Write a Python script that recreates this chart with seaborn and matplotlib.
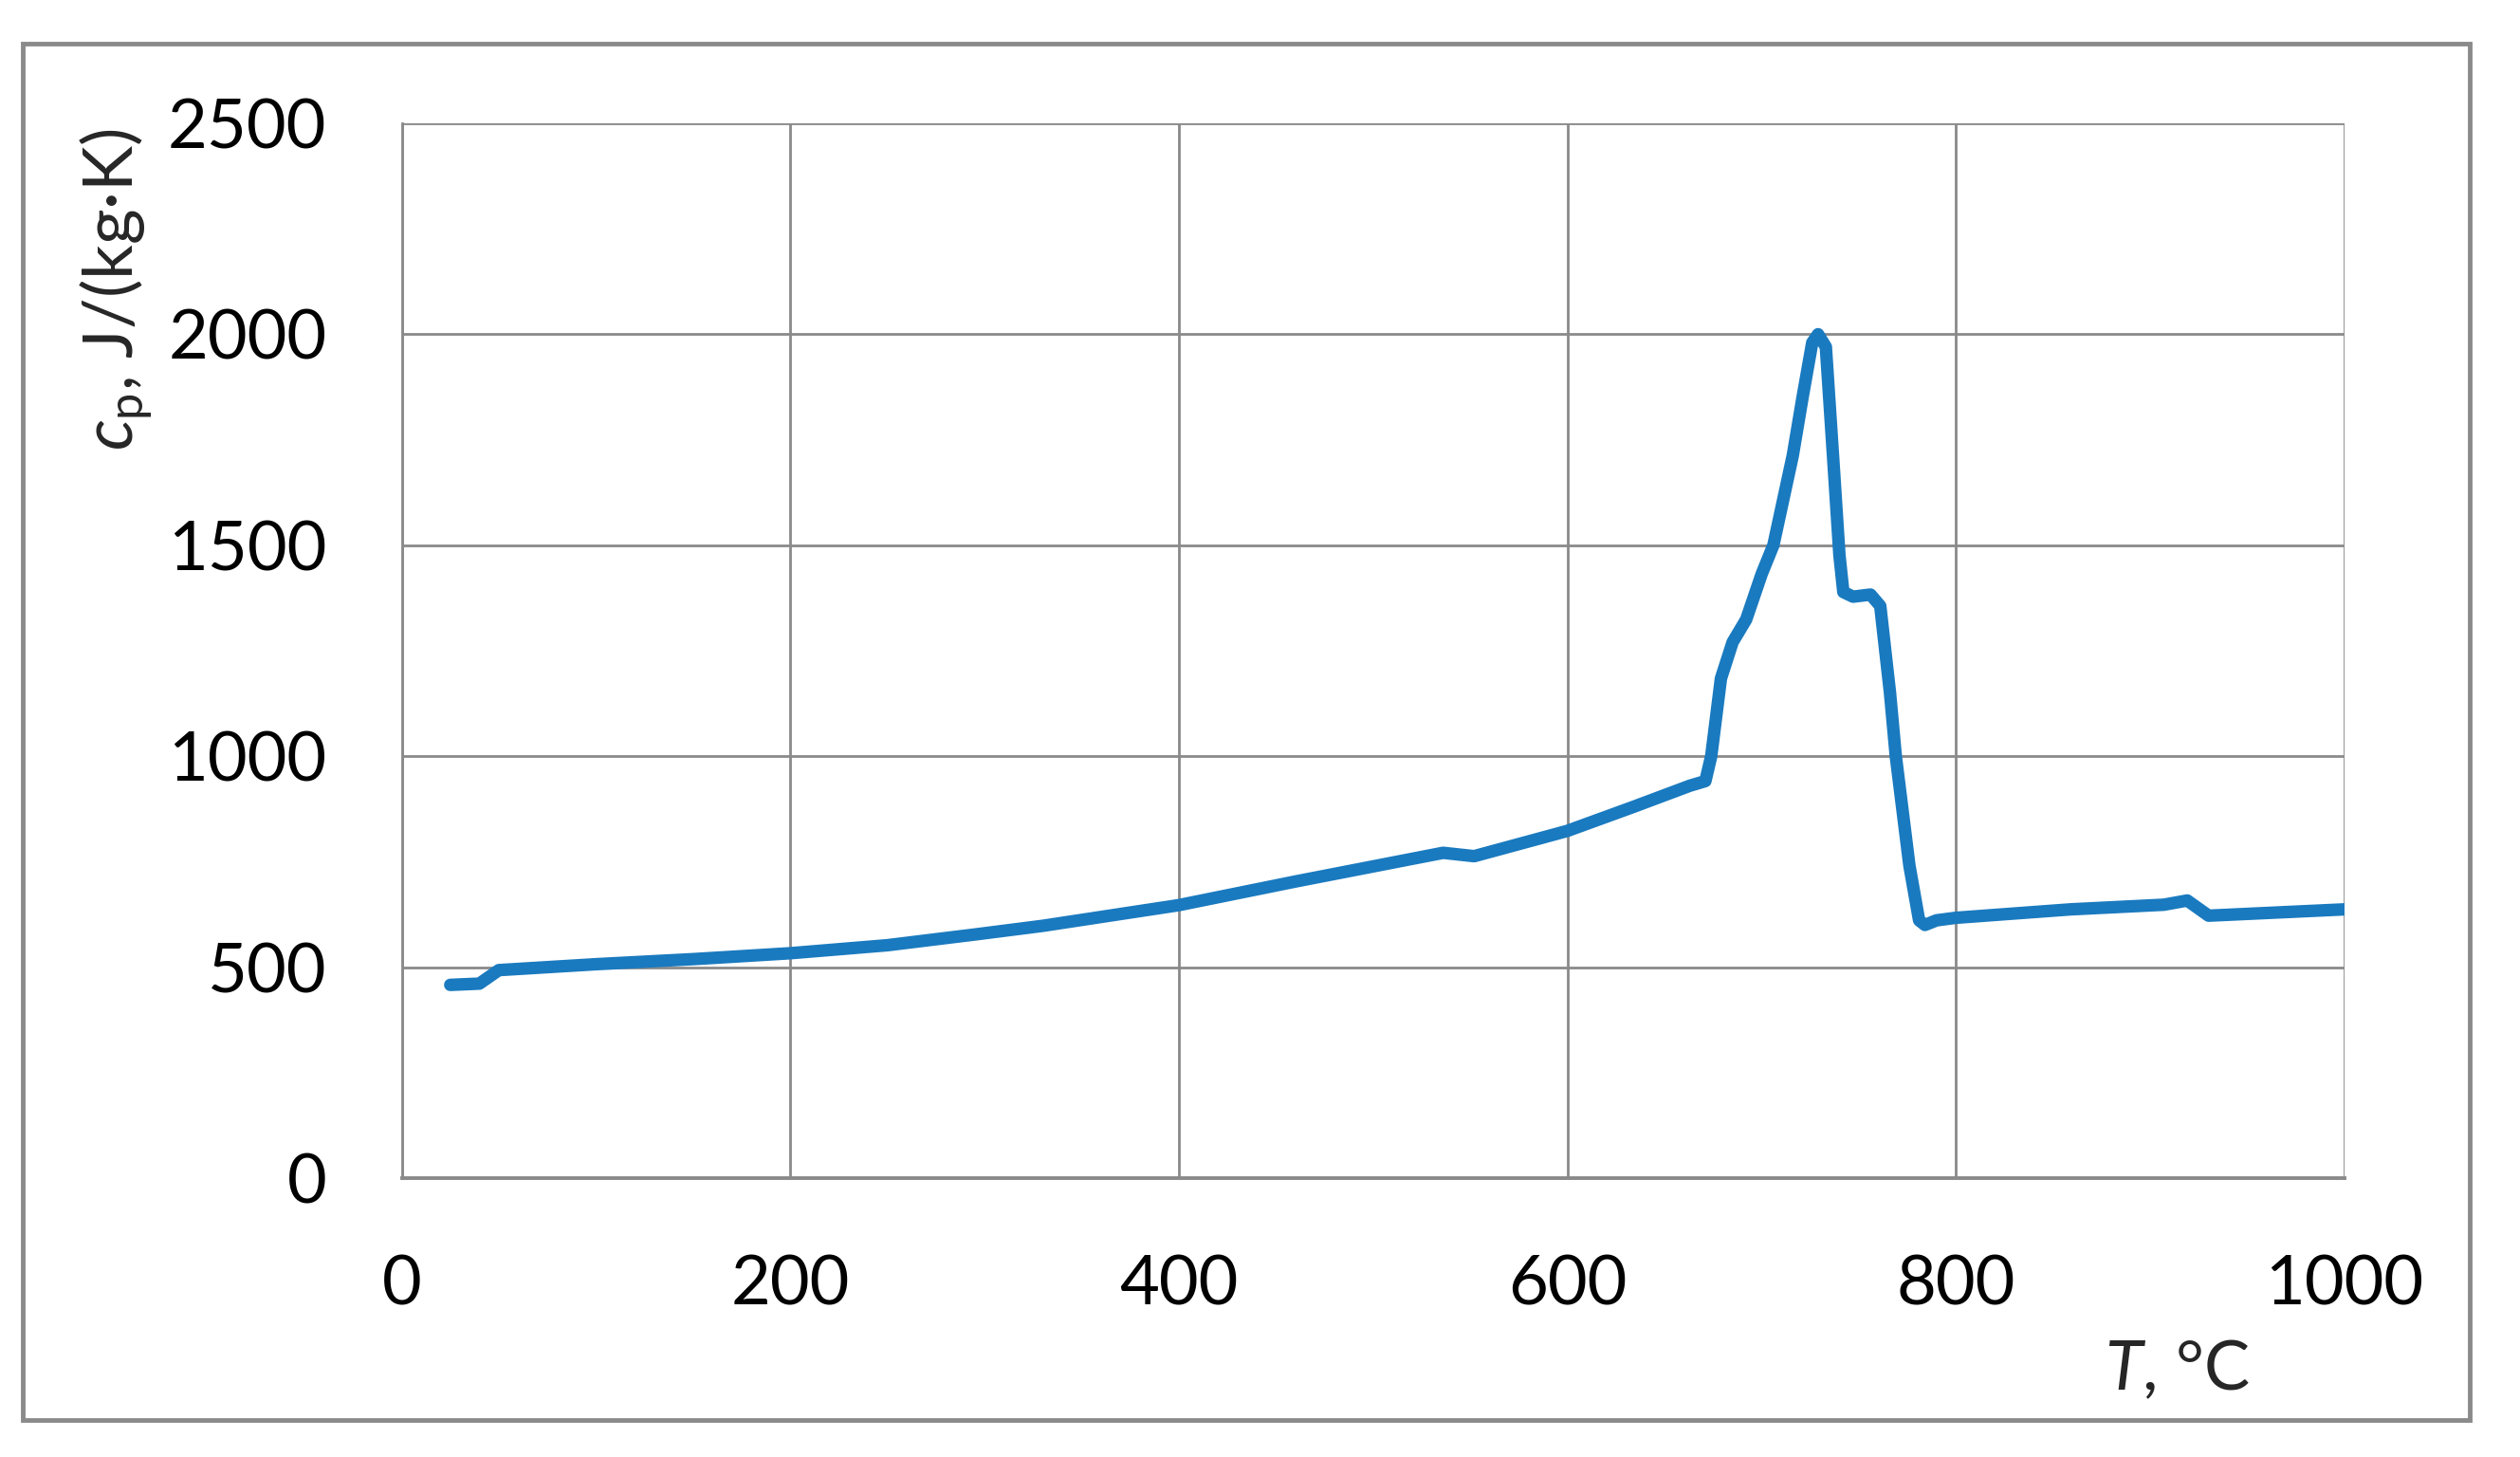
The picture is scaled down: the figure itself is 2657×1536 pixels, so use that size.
import pandas as pd
import seaborn as sns
import matplotlib.pyplot as plt
from matplotlib.patches import Rectangle

# Specific heat vs temperature
temperature = [25, 40, 50, 100, 150, 200, 250, 296, 330, 400, 460, 536, 552, 600,
               634, 663, 671, 674, 679, 685, 692, 700, 706, 716, 721, 726, 729, 733,
               737, 740, 742, 747, 756, 761, 766, 769, 776, 781, 784, 790, 800, 859,
               907, 919, 930, 1000]
cp_values = [458, 461, 493, 507, 519, 533, 552, 578, 598, 647, 703, 771, 763, 823,
             880, 930, 941, 1000, 1184, 1270, 1324, 1432, 1500, 1713, 1850, 1980, 2000, 1970,
             1690, 1476, 1389, 1378, 1383, 1356, 1151, 1000, 741, 611, 600, 611, 617, 637,
             648, 658, 622, 637]
x_ticks = [0, 200, 400, 600, 800, 1000]
y_ticks = [0, 500, 1000, 1500, 2000, 2500]

df = pd.DataFrame({"T": temperature, "cp": cp_values})

sns.set_theme(style="white")
plt.rcParams["font.family"] = ["Lato", "DejaVu Sans"]
plt.rcParams["mathtext.fontset"] = "custom"
plt.rcParams["mathtext.rm"] = "Lato"
plt.rcParams["mathtext.it"] = "Lato:italic"

fig = plt.figure(figsize=(26.57, 15.36), dpi=100)
ax = fig.add_axes([0.1594, 0.1914, 0.771, 0.724])

grid_col = "#8a8a8a"
sns.lineplot(data=df, x="T", y="cp", ax=ax, color="#1a7abf", linewidth=9.5,
             solid_capstyle="round", solid_joinstyle="round", sort=False)

ax.set_xlim(0, 1000)
ax.set_ylim(0, 2500)
ax.set_xticks(x_ticks)
ax.set_yticks(y_ticks)
ax.grid(True, color=grid_col, linewidth=2.0)
ax.set_axisbelow(True)
for side in ["top", "right"]:
    ax.spines[side].set_visible(False)
ax.spines["left"].set_color(grid_col)
ax.spines["left"].set_linewidth(2.0)
ax.spines["bottom"].set_color(grid_col)
ax.spines["bottom"].set_linewidth(2.8)
ax.tick_params(axis="both", labelsize=52, colors=grid_col, labelcolor="black",
               length=19, width=2.0)
ax.tick_params(axis="y", pad=38)
ax.tick_params(axis="x", pad=39)

ax.set_xlabel(r"$T$, °C", fontsize=52)
ax.xaxis.set_label_coords(0.914, -0.152)
ax.set_ylabel(r"$c_\mathregular{p}$, J/(kg·K)", fontsize=52, loc="top")
ax.yaxis.set_label_coords(-0.127, 0.995)

# outer frame around the chart
fig.patches.append(Rectangle((0.009, 0.0254), 0.971, 0.9447, transform=fig.transFigure,
                             fill=False, edgecolor=grid_col, linewidth=3.5))

plt.savefig("out.png", dpi=100)
